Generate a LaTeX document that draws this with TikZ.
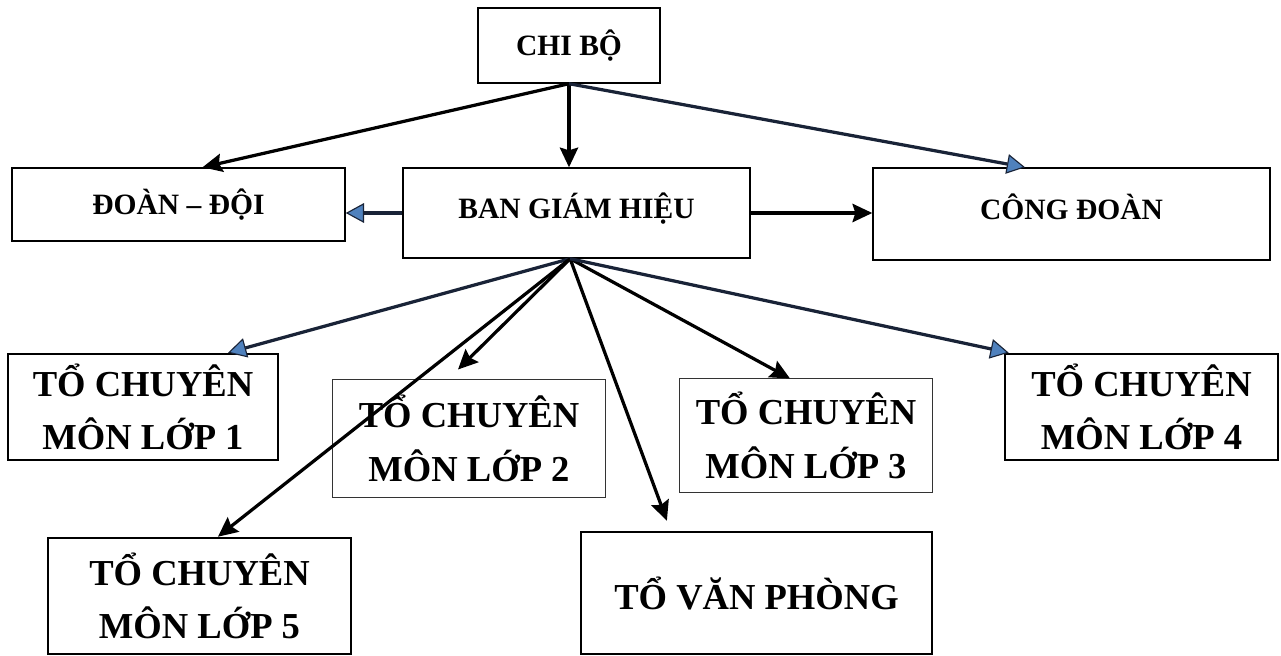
\documentclass[tikz,border=0pt]{standalone}
\usepackage{fontspec}
\setmainfont{Liberation Serif}
\usetikzlibrary{arrows.meta}
\definecolor{tipblue}{RGB}{79,129,189}
\definecolor{navyline}{RGB}{25,35,55}

\begin{document}
\begin{tikzpicture}[x=0.025cm, y=-0.025cm,
        unitbox/.style={draw, line width=1pt, inner sep=0pt, align=center,
            font=\fontsize{21}{25}\selectfont\bfseries},
        teambox/.style={draw, line width=1.8pt, inner sep=0pt, align=center,
            font=\fontsize{26}{38}\selectfont\bfseries},
        thinbox/.style={teambox, line width=0.7pt, draw=black!80},
        blackarr/.style={line width=2.3pt, -{Stealth[length=14pt, width=13pt, inset=2pt]}},
        bluearr/.style={line width=2.3pt, draw=navyline,
            -{Triangle[length=13pt, width=14pt, fill=tipblue, line width=0.8pt]}}]
        \useasboundingbox (0,0) rectangle (1281,656);

        % Top levels
        \node[unitbox, minimum width=4.55cm, minimum height=1.875cm] (chibo) at (569,45.5) {CHI BỘ};
        \node[unitbox, minimum width=8.325cm, minimum height=1.825cm] (doan) at (178.5,204.5) {\raisebox{0.15cm}{ĐOÀN – ĐỘI}};
        \node[unitbox, minimum width=8.675cm, minimum height=2.25cm] (bgh) at (576.5,213) {\raisebox{0.35cm}{BAN GIÁM HIỆU}};
        \node[unitbox, minimum width=9.925cm, minimum height=2.3cm] (congdoan) at (1071.5,214) {\raisebox{0.35cm}{CÔNG ĐOÀN}};

        % Teams
        \node[teambox, minimum width=6.75cm, minimum height=2.65cm] (lop1) at (143,407) {TỔ CHUYÊN\\MÔN LỚP 1};
        \node[thinbox, minimum width=6.8cm, minimum height=2.925cm] (lop2) at (469,438.5) {TỔ CHUYÊN\\MÔN LỚP 2};
        \node[thinbox, minimum width=6.3cm, minimum height=2.825cm] (lop3) at (806,435.5) {TỔ CHUYÊN\\MÔN LỚP 3};
        \node[teambox, minimum width=6.825cm, minimum height=2.65cm] (lop4) at (1141.5,407) {TỔ CHUYÊN\\MÔN LỚP 4};
        \node[teambox, minimum width=7.575cm, minimum height=2.9cm] (lop5) at (199.5,596) {TỔ CHUYÊN\\MÔN LỚP 5};
        \node[teambox, minimum width=8.775cm, minimum height=3.05cm] (vanphong) at (756.5,593) {TỔ VĂN PHÒNG};

        % Arrows from the top
        \draw[blackarr] (chibo.south) -- (chibo.south |- bgh.north);
        \draw[blackarr] (chibo.south) -- ([xshift=0.6cm]doan.north);
        \draw[bluearr] (chibo.south) -- ([xshift=-1.16cm]congdoan.north);
        \draw[bluearr] (bgh.west) -- (bgh.west -| doan.east);
        \draw[blackarr] (bgh.east) -- (bgh.east -| congdoan.west);

        % Fan from the board
        \coordinate (fan) at ([xshift=-0.16cm]bgh.south);
        \draw[bluearr] (fan) -- ([xshift=2.125cm]lop1.north);
        \draw[blackarr] (fan) -- ([xshift=0.46cm]lop5.north);
        \draw[blackarr] (fan) -- ([xshift=-0.275cm, yshift=0.25cm]lop2.north);
        \draw[blackarr] (fan) -- ([xshift=-2.24cm, yshift=0.25cm]vanphong.north);
        \draw[blackarr] (fan) -- ([xshift=-0.4cm]lop3.north);
        \draw[bluearr] (fan) -- ([xshift=0.125cm]lop4.north west);
    \end{tikzpicture}
\end{document}
